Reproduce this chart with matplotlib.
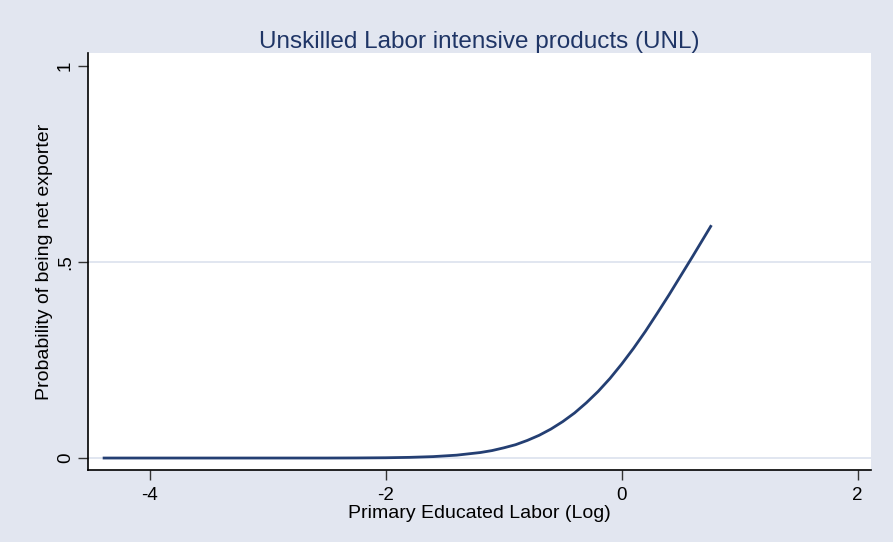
import matplotlib
matplotlib.use("Agg")
import matplotlib.pyplot as plt

plt.rcParams['font.family'] = ['Liberation Sans', 'DejaVu Sans']

# predicted probability
educ_log = [-4.40, -3.5, -3.0, -2.5, -2.25, -2.0, -1.8, -1.6, -1.4, -1.2, -1.1,
            -1.0, -0.9, -0.8, -0.7, -0.6, -0.5, -0.4, -0.3, -0.2, -0.1,
            0.0, 0.1, 0.2, 0.3, 0.4, 0.5, 0.6, 0.7, 0.76]
prob = [0.000, 0.000, 0.000, 0.000, 0.0002, 0.0007, 0.0017, 0.0036, 0.0073, 0.014, 0.019,
        0.026, 0.034, 0.045, 0.058, 0.074, 0.093, 0.115, 0.141, 0.170, 0.203,
        0.240, 0.280, 0.323, 0.369, 0.416, 0.465, 0.514, 0.564, 0.594]

xticks = [-4, -2, 0, 2]
yticks = [0, 0.5, 1]
ytick_labels = ['0', '.5', '1']

bg = '#E2E6F0'
navy = '#1F3566'

fig = plt.figure(figsize=(8.93, 5.42), dpi=100, facecolor=bg)
ax = fig.add_axes([0.0985, 0.1328, 0.8765, 0.7692])
ax.set_facecolor('white')

for g in [0, 0.5]:
    ax.axhline(g, color='#DCE2EE', lw=1.2, zorder=1)

ax.plot(educ_log, prob, color='#243F73', lw=2.0, zorder=3,
        solid_joinstyle='round', solid_capstyle='butt')

ax.set_xlim(-4.525, 2.11)
ax.set_ylim(-0.0306, 1.033)
ax.set_xticks(xticks)
ax.set_xticklabels([str(t) for t in xticks])
ax.set_yticks(yticks)
ax.set_yticklabels(ytick_labels, rotation=90, va='center')

for s in ['top', 'right']:
    ax.spines[s].set_visible(False)
for s in ['left', 'bottom']:
    ax.spines[s].set_color('black')
    ax.spines[s].set_linewidth(1.2)

ax.tick_params(axis='both', length=7, width=1, color='#333333', labelsize=13.5, pad=5)
ax.tick_params(axis='y', pad=3)

ax.set_title('Unskilled Labor intensive products (UNL)', fontsize=17.5, color=navy, pad=2)
ax.set_xlabel('Primary Educated Labor (Log)', fontsize=14, labelpad=1)
ax.set_ylabel('Probability of being net exporter', fontsize=14, labelpad=3)

fig.savefig('out.png', dpi=100, facecolor=bg)
